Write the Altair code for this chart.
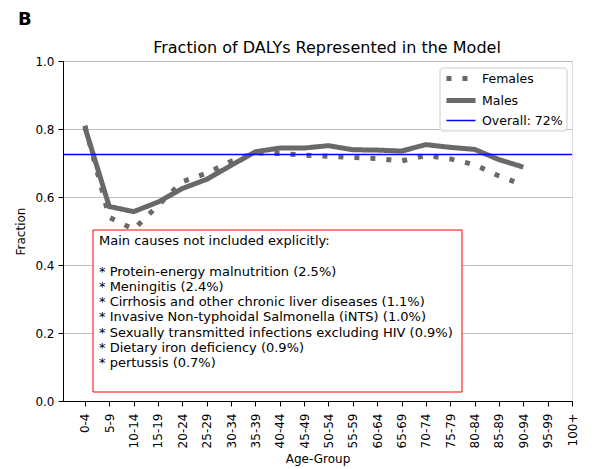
import altair as alt
import pandas as pd

ages = ["0-4", "5-9", "10-14", "15-19", "20-24", "25-29", "30-34", "35-39", "40-44",
        "45-49", "50-54", "55-59", "60-64", "65-69", "70-74", "75-79", "80-84",
        "85-89", "90-94", "95-99", "100+"]
females = [0.810, 0.540, 0.505, 0.575, 0.645, 0.670, 0.705, 0.730, 0.728, 0.723,
           0.720, 0.716, 0.713, 0.706, 0.722, 0.712, 0.695, 0.662, 0.635]
males = [0.805, 0.572, 0.557, 0.585, 0.625, 0.652, 0.693, 0.733, 0.744, 0.744,
         0.751, 0.739, 0.738, 0.735, 0.754, 0.746, 0.740, 0.710, 0.688]
overall = 0.725
series_names = ["Females", "Males", "Overall: 72%"]
box_header = "Main causes not included explicitly:"
box_items = [
    "* Protein-energy malnutrition (2.5%)",
    "* Meningitis (2.4%)",
    "* Cirrhosis and other chronic liver diseases (1.1%)",
    "* Invasive Non-typhoidal Salmonella (iNTS) (1.0%)",
    "* Sexually transmitted infections excluding HIV (0.9%)",
    "* Dietary iron deficiency (0.9%)",
    "* pertussis (0.7%)",
]
title_text = "Fraction of DALYs Represented in the Model"
panel_label = "B"

FONT = "DejaVu Sans"
GRAY = "#696969"
FS = 12
LH = 15.3

rows = []
for i, v in enumerate(females):
    rows.append({"idx": i, "value": v, "series": "Females"})
for i, v in enumerate(males):
    rows.append({"idx": i, "value": v, "series": "Males"})
df = pd.DataFrame(rows)
df_overall = pd.DataFrame({"value": [overall], "series": ["Overall: 72%"]})

label_expr = "[" + ",".join("'" + a + "'" for a in ages) + "][datum.value]"

W, H = 509, 340

color = alt.Color("series:N", scale=alt.Scale(domain=series_names, range=[GRAY, GRAY, "#0000ff"]),
                  legend=alt.Legend(title=None, orient="none", legendX=386.5, legendY=6,
                                    symbolType="M-1.68,0H1.68", symbolSize=300,
                                    labelFont=FONT, labelFontSize=12.5, labelColor="black",
                                    padding=0, rowPadding=0, labelOffset=9.5))
dash = alt.StrokeDash("series:N", scale=alt.Scale(type="ordinal", domain=series_names,
                                                  range=[[5, 11], [1, 0], [1, 0]]),
                      legend=alt.Legend(title=None))
width_enc = alt.StrokeWidth("series:N", scale=alt.Scale(type="ordinal", domain=series_names,
                                                        range=[5, 5, 1.5]),
                            legend=alt.Legend(title=None))

x_enc = alt.X("idx:Q", scale=alt.Scale(domain=[-0.9, 20], nice=False, zero=False),
              axis=alt.Axis(values=list(range(len(ages))), labelExpr=label_expr,
                            labelAngle=270, labelAlign="right", labelBaseline="middle",
                            grid=False, title="Age-Group", labelFont=FONT, titleFont=FONT,
                            labelFontSize=FS, titleFontSize=FS, titleFontWeight="normal",
                            tickSize=5, labelPadding=7, tickColor="black", domainColor="black",
                            labelColor="black", titleColor="black", titlePadding=6))
y_scale = alt.Scale(domain=[0, 1], nice=False)
y_axis = alt.Axis(values=[0, 0.2, 0.4, 0.6, 0.8, 1.0], format=".1f", grid=True,
                  gridColor="#b0b0b0", gridWidth=0.8, title="Fraction",
                  labelFont=FONT, titleFont=FONT, labelFontSize=FS, titleFontSize=FS,
                  titleFontWeight="normal", tickSize=5, labelPadding=4,
                  tickColor="black", domainColor="black", labelColor="black",
                  titleColor="black", titlePadding=7)

lines = alt.Chart(df).mark_line(strokeCap="butt", strokeJoin="miter").encode(
    x=x_enc,
    y=alt.Y("value:Q", scale=y_scale, axis=y_axis),
    color=color, strokeDash=dash, strokeWidth=width_enc,
    detail="series:N",
)

box = alt.Chart(pd.DataFrame({"t": [0]})).mark_rect(fill="white", stroke="red", strokeWidth=1).encode(
    x=alt.value(30), x2=alt.value(399), y=alt.value(169), y2=alt.value(331)
)
header_text = alt.Chart(pd.DataFrame({"t": [box_header]})).mark_text(
    align="left", baseline="top", font=FONT, fontSize=13, color="black"
).encode(x=alt.value(36), y=alt.value(174), text="t:N")
items_text = alt.Chart(pd.DataFrame({"t": ["\n".join(box_items)]})).mark_text(
    align="left", baseline="top", font=FONT, fontSize=13, lineHeight=LH,
    lineBreak="\n", color="black"
).encode(x=alt.value(36), y=alt.value(174 + 2 * LH), text="t:N")

rule = alt.Chart(df_overall).mark_rule().encode(
    y=alt.Y("value:Q", scale=y_scale),
    color=color, strokeDash=dash, strokeWidth=width_enc,
)

legend_frame = alt.Chart(pd.DataFrame({"t": [0]})).mark_rect(
    fill="white", fillOpacity=0.8, stroke="#cccccc", strokeWidth=1, cornerRadius=3
).encode(x=alt.value(377), x2=alt.value(504), y=alt.value(7), y2=alt.value(70))

title_mark = alt.Chart(pd.DataFrame({"t": [title_text]})).mark_text(
    align="center", baseline="alphabetic", font=FONT, fontSize=16, color="black"
).encode(x=alt.value(264), y=alt.value(-8), text="t:N")

b_mark = alt.Chart(pd.DataFrame({"t": [panel_label]})).mark_text(
    align="left", baseline="alphabetic", font=FONT, fontSize=18, fontWeight="bold", color="black"
).encode(x=alt.value(-45), y=alt.value(-36), text="t:N")

chart = alt.layer(lines, box, header_text, items_text, rule, legend_frame, title_mark, b_mark).properties(
    width=W, height=H,
    autosize=alt.AutoSizeParams(type="none"),
    padding={"left": 55, "top": 53, "right": 15, "bottom": 66},
).configure_view(stroke="black", strokeWidth=1).configure(background="white")

chart.save("out.html", embed_options={"renderer": "svg", "actions": False})
